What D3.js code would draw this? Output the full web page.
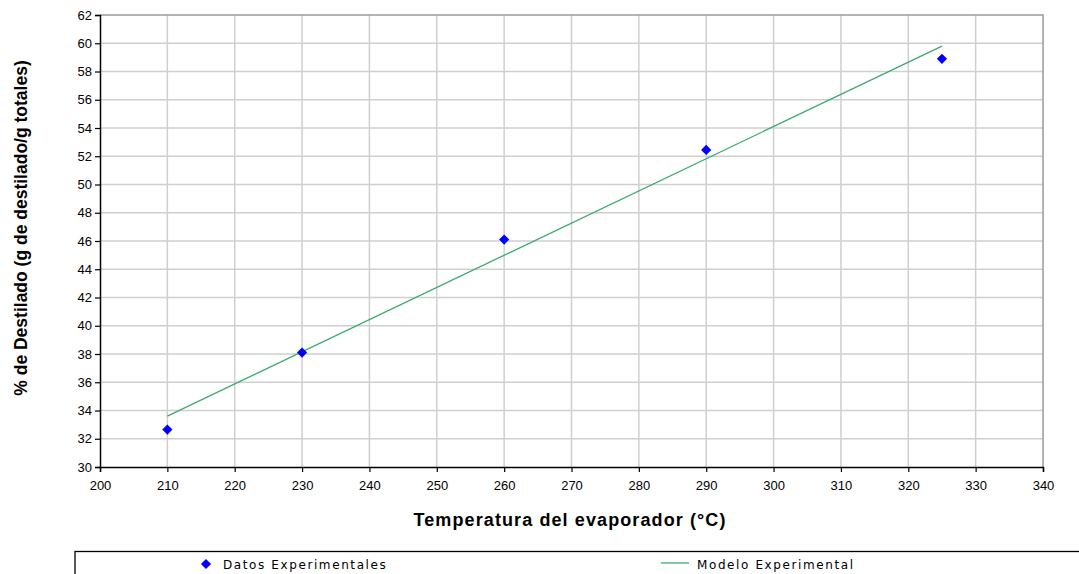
<!DOCTYPE html>
<html>
<head>
<meta charset="utf-8">
<script src="https://cdn.jsdelivr.net/npm/d3@7"></script>
<style>
  body { margin: 0; background: #fff; }
  svg { display: block; }
</style>
</head>
<body>
<div id="chart"></div>
<script>
// measured points
const temps = [210, 230, 260, 290, 325];
const destilado = [32.65, 38.1, 46.1, 52.45, 58.9];
// fitted model line (end points)
const modelTemps = [210, 325];
const modelValues = [33.6, 59.8];

const xTicks = d3.range(200, 341, 10);
const yTicks = d3.range(30, 63, 2);

let width = 1079,
  height = 574;
const margin = {left: 100, right: 36, top: 15, bottom: 107};

const svg = d3.select("#chart")
  .append("svg")
  .attr("width", width)
  .attr("height", height);

const x = d3.scaleLinear().domain([200, 340]).range([margin.left, width - margin.right]);
const y = d3.scaleLinear().domain([30, 62]).range([height - margin.bottom, margin.top]);

// grid
svg.append("g").selectAll("line")
  .data(xTicks.slice(1, -1))
  .join("line")
  .attr("x1", d => x(d)).attr("x2", d => x(d))
  .attr("y1", y(62)).attr("y2", y(30))
  .attr("stroke", "#cfcfcf").attr("stroke-width", 1.5);

svg.append("g").selectAll("line")
  .data(yTicks.slice(1, -1))
  .join("line")
  .attr("x1", x(200)).attr("x2", x(340))
  .attr("y1", d => y(d)).attr("y2", d => y(d))
  .attr("stroke", "#cfcfcf").attr("stroke-width", 1.5);

// top & right frame
svg.append("path")
  .attr("d", `M${x(200)},${y(62)}H${x(340)}V${y(30)}`)
  .attr("fill", "none")
  .attr("stroke", "#999")
  .attr("stroke-width", 1.5);

// axes
const xAxis = svg.append("g")
  .attr("transform", `translate(0,${y(30)})`)
  .call(d3.axisBottom(x).tickValues(xTicks).tickSize(5).tickPadding(9));
const yAxis = svg.append("g")
  .attr("transform", `translate(${x(200)},0)`)
  .call(d3.axisLeft(y).tickValues(yTicks).tickSize(5).tickPadding(3));

[xAxis, yAxis].forEach(a => {
  a.select(".domain").attr("stroke", "#000").attr("stroke-width", 1.5);
  a.selectAll(".tick line").attr("stroke", "#000").attr("stroke-width", 1.2);
  a.selectAll("text")
    .attr("fill", "#000")
    .style("font-family", "Liberation Sans, Arial, sans-serif")
    .style("font-size", "13px");
});

// model line
const modelData = modelTemps.map((t, i) => ({t: t, v: modelValues[i]}));
svg.append("path")
  .datum(modelData)
  .attr("fill", "none")
  .attr("stroke", "#3daa72")
  .attr("stroke-width", 1.3)
  .attr("d", d3.line().x(d => x(d.t)).y(d => y(d.v)));

// data points
const diamond = d3.symbol().type(d3.symbolDiamond2).size(66);
svg.append("g").selectAll("path")
  .data(temps.map((t, i) => ({t: t, v: destilado[i]})))
  .join("path")
  .attr("d", diamond)
  .attr("transform", d => `translate(${x(d.t)},${y(d.v)})`)
  .attr("fill", "#0000ff");

// axis titles
svg.append("text")
  .attr("x", 570).attr("y", 526)
  .attr("text-anchor", "middle")
  .style("font-family", "Liberation Sans, Arial, sans-serif")
  .style("font-size", "18px")
  .style("letter-spacing", "1.1px")
  .style("font-weight", "bold")
  .text("Temperatura del evaporador (°C)");

svg.append("text")
  .attr("transform", "translate(27,228) rotate(-90)")
  .attr("text-anchor", "middle")
  .style("font-family", "Liberation Sans, Arial, sans-serif")
  .style("font-size", "17.5px")
  .style("font-weight", "bold")
  .text("% de Destilado (g de destilado/g totales)");

// legend box
svg.append("rect")
  .attr("x", 75).attr("y", 551.5)
  .attr("width", 1020).attr("height", 40)
  .attr("fill", "#fff")
  .attr("stroke", "#000")
  .attr("stroke-width", 1.3);

svg.append("path")
  .attr("d", diamond)
  .attr("transform", "translate(206,564)")
  .attr("fill", "#0000ff");
svg.append("text")
  .attr("x", 223).attr("y", 568.5)
  .style("font-family", "DejaVu Sans, sans-serif")
  .style("font-size", "12px")
  .style("letter-spacing", "1.6px")
  .text("Datos Experimentales");

svg.append("line")
  .attr("x1", 661).attr("x2", 689)
  .attr("y1", 563).attr("y2", 563)
  .attr("stroke", "#3daa72")
  .attr("stroke-width", 1.3);
svg.append("text")
  .attr("x", 697).attr("y", 568.5)
  .style("font-family", "DejaVu Sans, sans-serif")
  .style("font-size", "12px")
  .style("letter-spacing", "1.6px")
  .text("Modelo Experimental");
</script>
</body>
</html>
